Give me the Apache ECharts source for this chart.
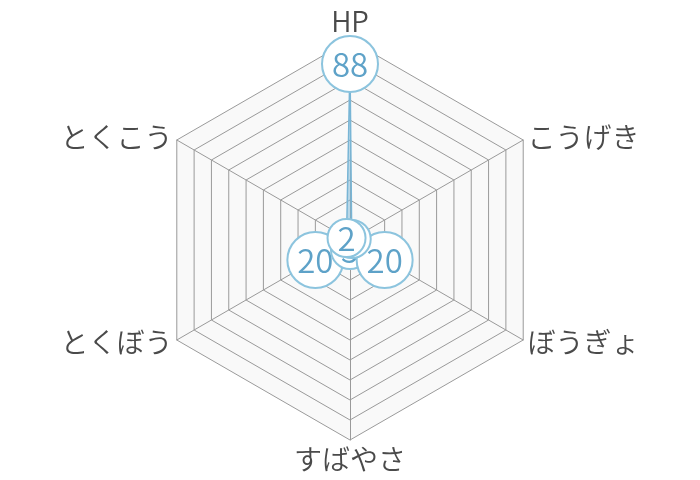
<!DOCTYPE html>
<html lang="ja">
<head>
    <meta charset="UTF-8">
    <title>ステータス レーダー</title>
    <script src="https://cdn.jsdelivr.net/npm/echarts@6/dist/echarts.min.js"></script>
    <style>
        html, body { margin: 0; padding: 0; background: #fff; }
    </style>
</head>
<body>
<div id="chart" style="width: 700px;height: 480px"></div>
<script type="text/javascript">
    // 能力名（左下から反時計回り、HP が真上にくる）
    var statNames = ['とくぼう', 'すばやさ', 'ぼうぎょ', 'こうげき', 'HP', 'とくこう'];
    var statValues = [20, 5, 20, 1, 88, 2];
    var statMax = 100;

    var lineColor = '#79b6d6';
    var chart = echarts.init(document.getElementById('chart'));

    // 数値ラベルの丸（1桁は小さめ）
    var bubble = {
        backgroundColor: '#fff',
        borderColor: '#8cc4de',
        borderWidth: 2,
        fontSize: 33,
        fontWeight: 350,
        color: '#5ea2c8',
        align: 'center'
    };

    var options = {
        textStyle: {
            fontFamily: '"Noto Sans CJK JP", "Noto Sans", sans-serif'
        },
        radar: {
            center: ['50%', 240],
            radius: 200,
            startAngle: 210,
            splitNumber: 10,
            indicator: statNames.map(function (n) {
                return {name: n, max: statMax};
            }),
            axisName: {
                color: '#4a4a4a',
                fontSize: 28,
                fontWeight: 350
            },
            nameGap: 5,
            axisLine: {lineStyle: {color: '#9a9a9a', width: 1}},
            splitLine: {lineStyle: {color: '#9a9a9a', width: 1}},
            splitArea: {show: true, areaStyle: {color: ['#f9f9f9']}}
        },
        series: [
            {
                type: 'radar',
                symbol: 'circle',
                symbolSize: 1,
                lineStyle: {color: lineColor, width: 1.5},
                itemStyle: {color: lineColor},
                areaStyle: {color: lineColor, opacity: 0.5},
                label: {
                    show: true,
                    position: 'inside',
                    formatter: function (p) {
                        var s = String(p.value);
                        return (s.length > 1 ? '{d|' : '{s|') + s + '}';
                    },
                    rich: {
                        d: Object.assign({
                            width: 34, height: 34, lineHeight: 34,
                            padding: [10, 10], borderRadius: 27
                        }, bubble),
                        s: Object.assign({
                            width: 18, height: 34, lineHeight: 34,
                            padding: [1, 9], borderRadius: 18
                        }, bubble)
                    }
                },
                data: [{value: statValues}]
            }
        ]
    };
    chart.setOption(options);
</script>
</body>
</html>
